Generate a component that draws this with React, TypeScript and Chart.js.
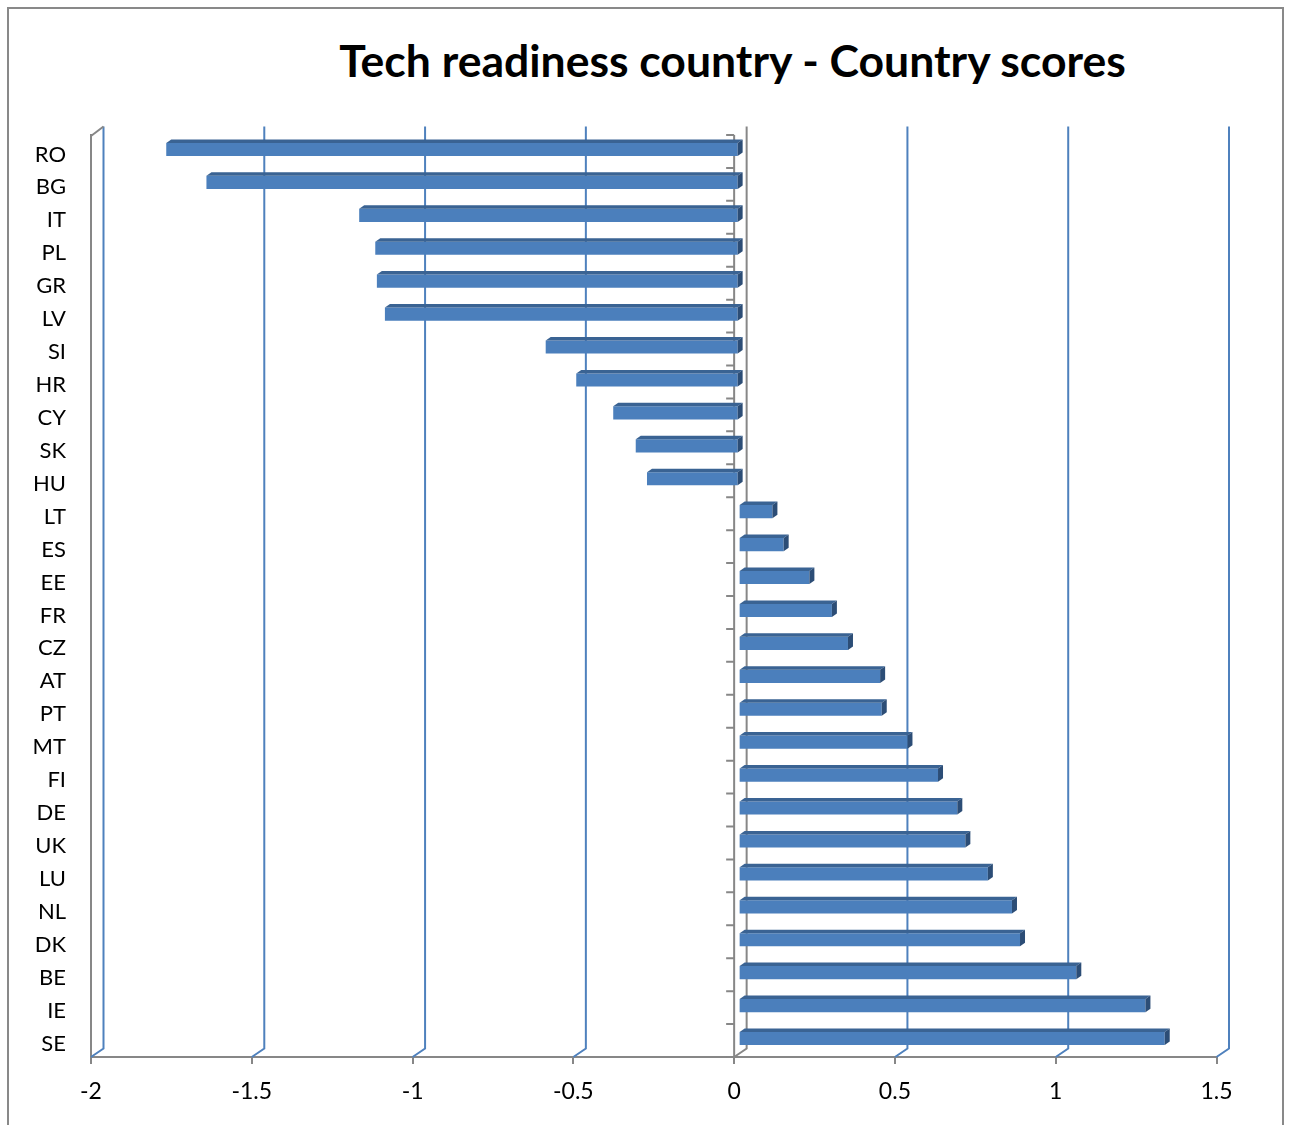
import React, { useEffect, useRef } from "react";
import { Chart, registerables } from "chart.js";

Chart.register(...registerables);

// Country scores, top to bottom
const countries = [
  "RO", "BG", "IT", "PL", "GR", "LV", "SI", "HR", "CY", "SK", "HU", "LT", "ES", "EE",
  "FR", "CZ", "AT", "PT", "MT", "FI", "DE", "UK", "LU", "NL", "DK", "BE", "IE", "SE",
];
const scores = [
  -1.78, -1.655, -1.18, -1.13, -1.125, -1.1, -0.6, -0.505, -0.39, -0.32, -0.285, 0.105, 0.14, 0.22,
  0.29, 0.34, 0.44, 0.445, 0.525, 0.62, 0.68, 0.705, 0.775, 0.85, 0.875, 1.05, 1.265, 1.325,
];
const scoreTicks = [-2, -1.5, -1, -0.5, 0, 0.5, 1, 1.5];

const TITLE = "Tech readiness country - Country scores";
const FONT = "Lato, 'Open Sans', sans-serif";

const AXIS_GRAY = "#878787";
const GRID_BLUE = "#4F81BD";
const BAR_FRONT = "#4B7FBC";
const BAR_TOP = "#3A6393";
const BAR_SIDE = "#2C4D76";

// Perspective offsets (px): back wall, bar front face, bar depth
const WALL_DX = 12.5;
const WALL_DY = -8.5;
const BAR_DX = 4.5;
const BAR_DY = -2;
const DEPTH_DX = 5;
const DEPTH_DY = -3.5;

const perspective = {
  id: "perspective",
  beforeDatasetsDraw(chart: any) {
    const { ctx, chartArea: a, scales } = chart;
    const xs = scales.x;
    const ys = scales.y;
    ctx.save();
    ctx.lineWidth = 2;
    ctx.lineJoin = "miter";
    // back wall gridlines running onto the floor
    for (const v of scoreTicks) {
      const xf = xs.getPixelForValue(v);
      const xb = xf + WALL_DX;
      ctx.strokeStyle = v === 0 ? AXIS_GRAY : GRID_BLUE;
      ctx.beginPath();
      ctx.moveTo(xb, a.top + WALL_DY);
      ctx.lineTo(xb, a.bottom + WALL_DY);
      ctx.lineTo(xf, a.bottom);
      ctx.stroke();
    }
    // left wall top edge
    ctx.strokeStyle = AXIS_GRAY;
    ctx.beginPath();
    ctx.moveTo(a.left, a.top + 1);
    ctx.lineTo(a.left + WALL_DX, a.top + WALL_DY);
    ctx.stroke();
    // category axis crossing at zero, with ticks between categories
    const x0 = xs.getPixelForValue(0);
    ctx.beginPath();
    ctx.moveTo(x0, a.top);
    ctx.lineTo(x0, a.bottom);
    const n = countries.length;
    for (let i = 0; i <= n; i++) {
      const yy =
        i === 0 ? a.top : i === n ? a.bottom : (ys.getPixelForValue(i - 1) + ys.getPixelForValue(i)) / 2;
      ctx.moveTo(x0 - 8, yy);
      ctx.lineTo(x0, yy);
    }
    ctx.stroke();
    ctx.restore();

    ctx.save();
    ctx.translate(BAR_DX, BAR_DY);
  },
  afterDatasetsDraw(chart: any) {
    const { ctx } = chart;
    const meta = chart.getDatasetMeta(0);
    meta.data.forEach((el: any) => {
      const { x, y, base, height } = el.getProps(["x", "y", "base", "height"], true);
      const L = Math.min(x, base);
      const R = Math.max(x, base);
      const T = y - height / 2;
      const B = y + height / 2;
      ctx.fillStyle = BAR_TOP;
      ctx.beginPath();
      ctx.moveTo(L, T);
      ctx.lineTo(L + DEPTH_DX, T + DEPTH_DY);
      ctx.lineTo(R + DEPTH_DX, T + DEPTH_DY);
      ctx.lineTo(R, T);
      ctx.closePath();
      ctx.fill();
      ctx.fillStyle = BAR_SIDE;
      ctx.beginPath();
      ctx.moveTo(R, T);
      ctx.lineTo(R + DEPTH_DX, T + DEPTH_DY);
      ctx.lineTo(R + DEPTH_DX, B + DEPTH_DY);
      ctx.lineTo(R, B);
      ctx.closePath();
      ctx.fill();
    });
    ctx.restore();
  },
};

export default function App() {
  const canvasRef = useRef<HTMLCanvasElement | null>(null);

  useEffect(() => {
    if (!canvasRef.current) return;
    const chart = new Chart(canvasRef.current, {
      type: "bar",
      data: {
        labels: countries,
        datasets: [
          {
            data: scores,
            backgroundColor: BAR_FRONT,
            borderWidth: 0,
            barPercentage: 0.4,
            categoryPercentage: 1,
          },
        ],
      },
      options: {
        indexAxis: "y",
        responsive: false,
        animation: false,
        devicePixelRatio: 1,
        layout: { padding: { top: 126, right: 65.5, left: 0, bottom: 0 } },
        plugins: {
          legend: { display: false },
          title: { display: false },
          tooltip: { enabled: false },
        },
        scales: {
          x: {
            type: "linear",
            min: -2,
            max: 1.5,
            afterBuildTicks: (s: any) => {
              s.ticks = scoreTicks.map((v) => ({ value: v }));
            },
            afterFit: (s: any) => {
              s.height = 72;
            },
            border: { display: true, color: AXIS_GRAY, width: 2 },
            grid: { drawOnChartArea: false, drawTicks: true, tickLength: 7, color: AXIS_GRAY, lineWidth: 2 },
            ticks: {
              font: { family: FONT, size: 23 },
              color: "#000",
              padding: 14,
              maxRotation: 0,
              autoSkip: false,
              callback: (v: any) => String(v),
            },
          },
          y: {
            type: "category",
            afterFit: (s: any) => {
              s.width = 82;
            },
            border: { display: true, color: AXIS_GRAY, width: 2 },
            grid: { display: false, drawTicks: false },
            ticks: {
              font: { family: FONT, size: 22 },
              color: "#000",
              padding: 25,
              autoSkip: false,
              labelOffset: 3,
            },
          },
        },
      },
      plugins: [perspective],
    });
    return () => chart.destroy();
  }, []);

  return (
    <div
      style={{
        position: "fixed",
        left: 7,
        top: 7,
        width: 1277,
        height: 1140,
        boxSizing: "border-box",
        border: "2px solid #898989",
        background: "#fff",
      }}
    >
      <div
        style={{
          position: "absolute",
          left: 0,
          top: 29,
          width: 1273,
          boxSizing: "border-box",
          paddingLeft: 174,
          textAlign: "center",
          fontFamily: FONT,
          fontWeight: 700,
          fontSize: 44.5,
          lineHeight: "44px",
          color: "#000",
          whiteSpace: "nowrap",
        }}
      >
        {TITLE}
      </div>
      <canvas
        ref={canvasRef}
        width={1273}
        height={1120}
        style={{ position: "absolute", left: 0, top: 0, width: 1273, height: 1120 }}
      />
    </div>
  );
}
